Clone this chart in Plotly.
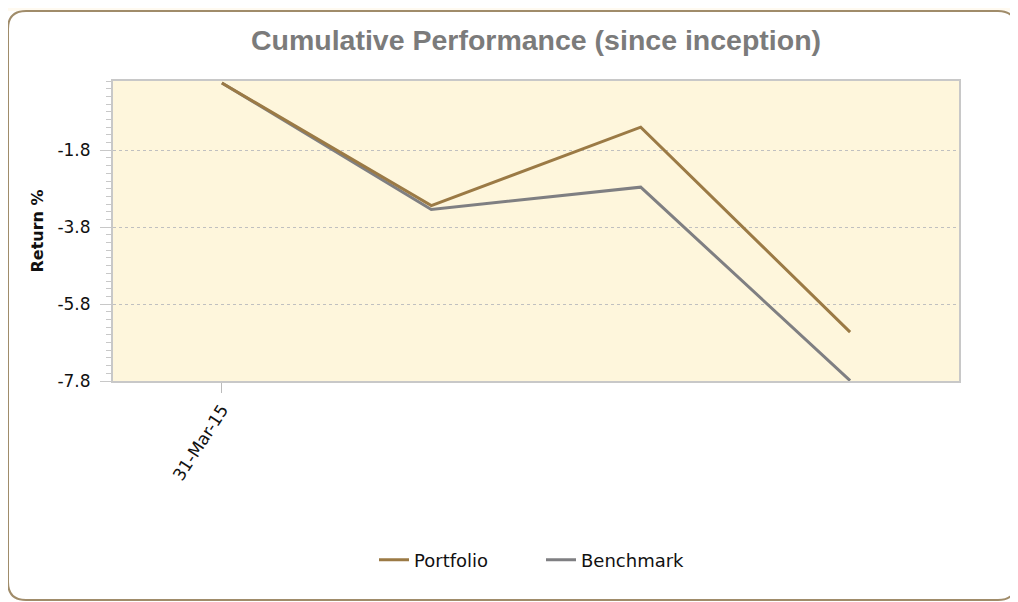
import plotly.graph_objects as go

# ---- data ----
x_index = [0, 1, 2, 3]
tick_labels = ["31-Mar-15"]
portfolio = [-0.05, -3.24, -1.20, -6.53]
benchmark = [-0.05, -3.34, -2.76, -7.79]
y_ticks = [-1.8, -3.8, -5.8, -7.8]

OFF = 8  # page body margin
W, H = 1010, 594
L, R, T, B = 113 - OFF, 959 - OFF, 81 - OFF, 381 - OFF  # plot area in figure px

def px_x(p):
    return (p - OFF - L) / (R - L)

def px_y(p):
    return (B - (p - OFF)) / (B - T)

fig = go.Figure()
fig.add_trace(go.Scatter(x=x_index, y=benchmark, mode="lines", name="Benchmark",
                         line=dict(color="#7f7f82", width=3)))
fig.add_trace(go.Scatter(x=x_index, y=portfolio, mode="lines", name="Portfolio",
                         line=dict(color="#9b7a45", width=3)))

# rounded outer border (reference page px)
x0, x1 = px_x(8), px_x(1016)
y0, y1 = px_y(600), px_y(11)
rx, ry = 18 / (R - L), 18 / (B - T)
path = (f"M {x0+rx},{y1} L {x1-rx},{y1} Q {x1},{y1} {x1},{y1-ry} "
        f"L {x1},{y0+ry} Q {x1},{y0} {x1-rx},{y0} L {x0+rx},{y0} "
        f"Q {x0},{y0} {x0},{y0+ry} L {x0},{y1-ry} Q {x0},{y1} {x0+rx},{y1} Z")

fig.update_layout(
    width=W, height=H,
    margin=dict(l=L, r=W - R, t=T, b=H - B),
    paper_bgcolor="white",
    plot_bgcolor="#fef6dc",
    font=dict(family="DejaVu Sans, Arial, sans-serif", size=16, color="#111"),
    title=dict(text="<b>Cumulative Performance (since inception)</b>",
               x=0.5, xref="paper", xanchor="center",
               y=1 - (40 - OFF) / H, yref="container", yanchor="middle",
               font=dict(family="Liberation Sans, Arial, sans-serif", size=28.5, color="#7b7b7b")),
    shapes=[
        dict(type="rect", xref="paper", yref="paper", x0=px_x(OFF), x1=px_x(W + OFF),
             y0=px_y(11), y1=px_y(OFF), fillcolor="#fffaf0", line=dict(width=0), layer="below"),
        dict(type="path", xref="paper", yref="paper", path=path,
             line=dict(color="#a08c6a", width=2), layer="above"),
    ],
    legend=dict(orientation="h", x=px_x(541), xanchor="center", y=px_y(560), yanchor="middle",
                traceorder="reversed", font=dict(size=18), itemwidth=30, entrywidth=122,
                bgcolor="rgba(0,0,0,0)"),
    showlegend=True,
)

fig.update_xaxes(range=[-0.52, 3.52], tickvals=[0], ticktext=tick_labels,
                 tickangle=-57, ticks="outside", ticklen=10, tickcolor="#bbbbbb",
                 showgrid=False, zeroline=False, showline=True, linecolor="#c8c8c8",
                 linewidth=2, mirror=True, tickfont=dict(size=17))
fig.update_yaxes(range=[-7.8, 0.0], tickvals=y_ticks, ticktext=[f"{v}" for v in y_ticks],
                 ticks="outside", ticklen=11, tickcolor="#c8c8c8",
                 showgrid=True, gridcolor="#c0c0c0", griddash="dot", gridwidth=1,
                 zeroline=False, showline=True, linecolor="#c8c8c8", linewidth=2, mirror=True,
                 tickfont=dict(size=17), ticklabelstandoff=6,
                 minor=dict(ticks="outside", ticklen=5, dtick=0.2, tick0=-7.8,
                            tickcolor="#c8c8c8", showgrid=False),
                 title=dict(text="<b>Return %</b>", standoff=10, font=dict(size=16)))

fig.write_html("out.html")
